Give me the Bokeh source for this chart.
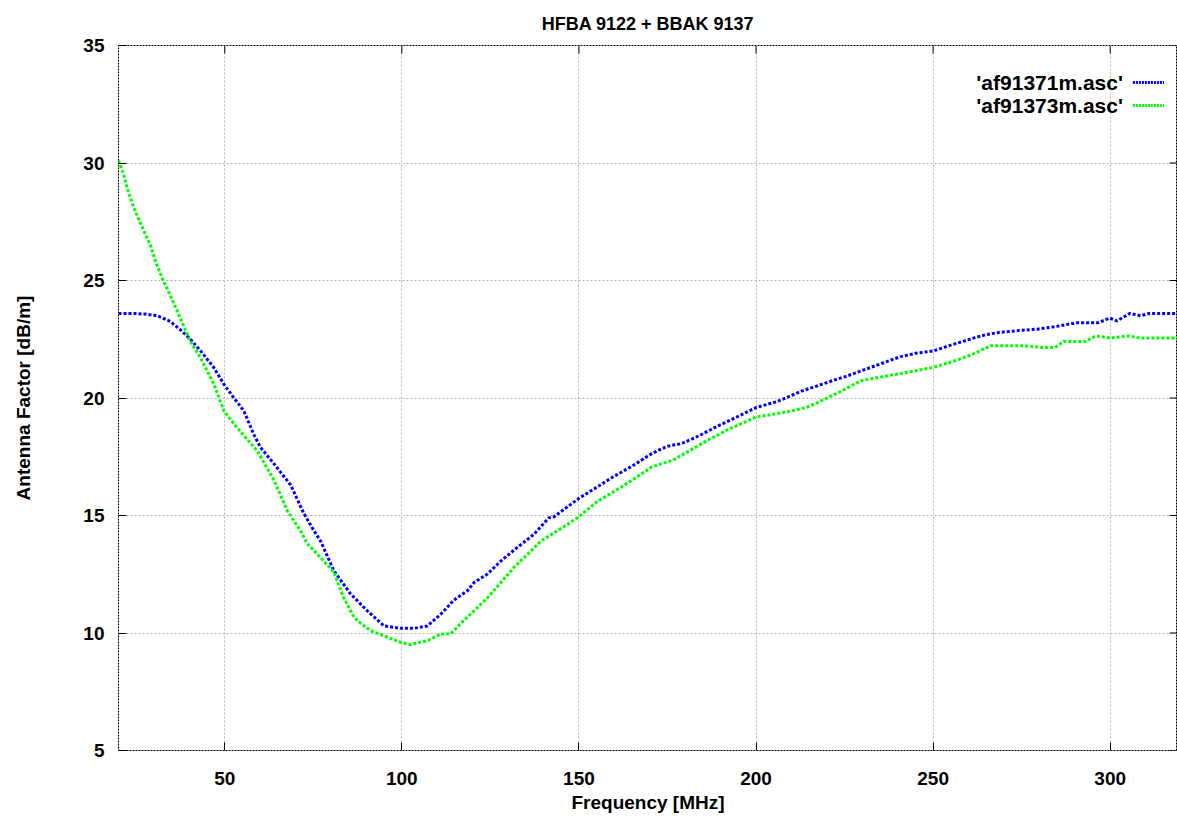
from bokeh.plotting import figure
from bokeh.models import Label, Arrow, FixedTicker, Range1d
from bokeh.embed import file_html
from bokeh.resources import INLINE

# ---------------- data ----------------
title_text = "HFBA 9122 + BBAK 9137"
x_label = "Frequency [MHz]"
y_label = "Antenna Factor [dB/m]"
x_ticks = [50, 100, 150, 200, 250, 300]
y_ticks = [5, 10, 15, 20, 25, 30, 35]
x_start, x_end = 20, 319
y_start, y_end = 5, 35

series1_name = "'af91371m.asc'"
freq_1 = [20, 24, 27.5, 31, 34.7, 37.5, 40.3, 43.2, 46.9, 49.7, 52.6, 55.4, 58.2,
          60.1, 63.9, 68.6, 72.3, 75.2, 77.1, 80.8, 85.5, 90.2, 95, 99.7, 103.4,
          107.2, 111, 114.7, 118.5, 120.4, 124.1, 128, 132.6, 137.3, 141.5, 143,
          150, 155, 159.7, 165, 170.6, 175, 179, 184, 188.7, 194, 200.1, 206,
          212.9, 216, 220.2, 225, 231.1, 236, 240.8, 245, 250, 255, 261.4, 265,
          268.6, 274, 279.5, 285, 290.4, 296.5, 299.9, 301.9, 305.6, 308.6, 311,
          314, 319]
af_1 = [23.6, 23.6, 23.57, 23.5, 23.25, 22.9, 22.5, 22.0, 21.3, 20.6, 20.0, 19.45,
        18.45, 17.9, 17.2, 16.3, 15.1, 14.35, 13.9, 12.65, 11.67, 10.95, 10.3, 10.2,
        10.2, 10.3, 10.8, 11.4, 11.8, 12.15, 12.5, 13.07, 13.64, 14.2, 14.9, 14.95,
        15.73, 16.2, 16.65, 17.1, 17.64, 17.95, 18.06, 18.4, 18.77, 19.15, 19.6,
        19.85, 20.3, 20.45, 20.67, 20.9, 21.23, 21.5, 21.76, 21.9, 22.0, 22.25,
        22.55, 22.7, 22.79, 22.87, 22.93, 23.05, 23.2, 23.2, 23.4, 23.28, 23.6,
        23.5, 23.6, 23.6, 23.6]

series2_name = "'af91373m.asc'"
freq_2 = [20, 21.5, 22.5, 24.3, 27.2, 29, 30.5, 32.5, 34.5, 36.6, 40.3, 43.2, 46.9,
          49.8, 52.6, 56, 59.2, 63.9, 67.7, 71.4, 73.3, 76.1, 80.8, 83.6, 86.5,
          88.5, 91.2, 95.9, 99.7, 102.5, 105, 107.2, 111, 113.8, 116.6, 120.4,
          124.2, 128, 131.7, 135.5, 139.2, 143.9, 149.6, 155.2, 159.7, 165, 170.6,
          176.6, 180, 186.3, 192, 200, 205.7, 210, 214.2, 218, 222.6, 226, 229.8,
          237.2, 243, 250, 256.5, 261, 266.2, 271, 275.9, 280.8, 284.4, 286.8,
          292.9, 295.9, 300.1, 305, 308.6, 313, 319]
af_2 = [30.1, 29.5, 28.9, 28.1, 27.1, 26.5, 25.8, 25.05, 24.4, 23.7, 22.4, 21.7,
        20.6, 19.45, 18.9, 18.3, 17.75, 16.5, 15.2, 14.35, 13.8, 13.36, 12.6,
        11.5, 10.67, 10.4, 10.1, 9.82, 9.6, 9.5, 9.6, 9.67, 9.96, 9.96, 10.4, 10.95,
        11.5, 12.15, 12.8, 13.35, 13.9, 14.35, 14.9, 15.6, 16.0, 16.5, 17.07,
        17.36, 17.65, 18.2, 18.65, 19.19, 19.33, 19.45, 19.6, 19.85, 20.18, 20.45,
        20.74, 20.95, 21.1, 21.3, 21.6, 21.85, 22.22, 22.22, 22.22, 22.15, 22.15,
        22.4, 22.4, 22.64, 22.55, 22.64, 22.55, 22.55, 22.55]

# ---------------- figure ----------------
FONT = "Liberation Sans"
FRAME_W = 1059   # plot area size in pixels
FRAME_H = 706

p = figure(width=1177, height=816, output_backend="svg", toolbar_location=None,
           x_range=Range1d(x_start, x_end), y_range=Range1d(y_start, y_end),
           min_border_left=118, min_border_right=0, min_border_top=44,
           min_border_bottom=66)

p.title.text = title_text
p.title.align = "center"
p.title.text_font = FONT
p.title.text_font_size = "18px"
p.title.text_font_style = "bold"
p.title.text_color = "black"
p.title.offset = 0
p.title.standoff = 23

p.outline_line_color = "black"
p.outline_line_dash = "2 1"
p.outline_line_width = 1
p.outline_line_alpha = 1

for ax in (p.xaxis[0], p.yaxis[0]):
    ax.axis_line_color = None
    ax.major_tick_in = 8
    ax.major_tick_out = 0
    ax.minor_tick_line_color = None
    ax.major_tick_line_color = "black"
    ax.major_label_text_font = FONT
    ax.major_label_text_font_style = "bold"
    ax.major_label_text_font_size = "19px"
    ax.major_label_text_color = "black"
    ax.axis_label_text_font = FONT
    ax.axis_label_text_font_style = "bold"
    ax.axis_label_text_font_size = "19px"
    ax.axis_label_text_color = "black"

p.xaxis[0].ticker = FixedTicker(ticks=x_ticks)
p.yaxis[0].ticker = FixedTicker(ticks=y_ticks)
p.xaxis[0].axis_label = x_label
p.yaxis[0].axis_label = y_label
p.xaxis[0].major_label_standoff = 21
p.xaxis[0].axis_label_standoff = 4
p.yaxis[0].major_label_standoff = 14
p.yaxis[0].axis_label_standoff = 46

p.xgrid.ticker = FixedTicker(ticks=x_ticks)
p.ygrid.ticker = FixedTicker(ticks=y_ticks)
for g in (p.xgrid[0], p.ygrid[0]):
    g.grid_line_color = "#b4b4b4"
    g.grid_line_dash = "2 2"
    g.grid_line_width = 1

# mirrored inward ticks on the top and right borders (8 px long)
tick_dx = 8 * (x_end - x_start) / FRAME_W
tick_dy = 8 * (y_end - y_start) / FRAME_H
p.segment(x0=x_ticks, y0=[y_end] * len(x_ticks), x1=x_ticks,
          y1=[y_end - tick_dy] * len(x_ticks), line_color="black", line_width=1)
p.segment(x0=[x_end] * len(y_ticks), y0=y_ticks, x1=[x_end - tick_dx] * len(y_ticks),
          y1=y_ticks, line_color="black", line_width=1)

blue = "#0000ff"
green = "#00ff00"
p.line(freq_1, af_1, line_color=blue, line_width=3, line_dash="3 2")
p.line(freq_2, af_2, line_color=green, line_width=3, line_dash="3 2")

# key (text left of the line sample, like gnuplot)
key_text_x = 303.6
key_line_x0 = 306.4
key_line_x1 = 315.2
key_rows = [(33.43, series1_name, blue), (32.45, series2_name, green)]
for ky, name, col in key_rows:
    p.add_layout(Label(x=key_text_x, y=ky, text=name, text_align="right",
                       text_baseline="middle", text_font=FONT,
                       text_font_style="bold", text_font_size="21px",
                       text_color="black"))
    p.add_layout(Arrow(x_start=key_line_x0, y_start=ky, x_end=key_line_x1, y_end=ky,
                       end=None, line_color=col, line_width=3, line_dash="2 1"))

open("out.html", "w").write(file_html(p, INLINE))
